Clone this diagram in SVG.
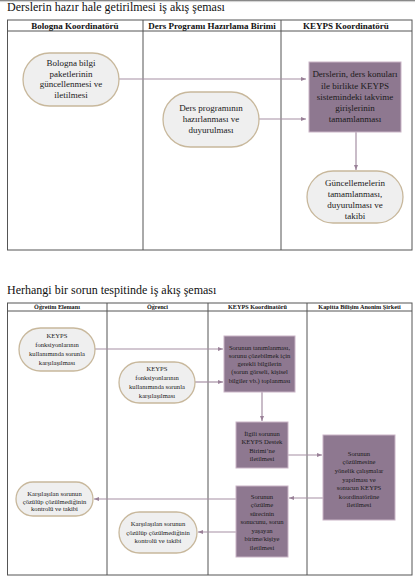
<svg xmlns="http://www.w3.org/2000/svg" width="415" height="577" viewBox="0 0 415 577">
<defs>
<linearGradient id="shade" x1="0" y1="0" x2="0" y2="1">
<stop offset="0" stop-color="#555"/>
<stop offset="1" stop-color="#fff" stop-opacity="0"/>
</linearGradient>
<marker id="ah" markerWidth="6" markerHeight="6" refX="5" refY="3" orient="auto" markerUnits="userSpaceOnUse">
<path d="M0,1 L5,3 L0,5 Z" fill="#9a8198"/>
</marker>
<style>
.tbl{fill:none;stroke:#555;stroke-width:1}
.st{fill:#efefef;stroke:#c8b89c;stroke-width:1.3}
.bx{fill:#8e7890;stroke:#c9b4c6;stroke-width:1}
.c{fill:none;stroke:#a58fa3;stroke-width:1.2;marker-end:url(#ah)}
.t{font-family:"Liberation Serif",serif;fill:#1a1a1a;text-anchor:middle}
.a{font-size:9px}
.b{font-size:6.6px}
.h1{font-family:"Liberation Serif",serif;font-size:9px;font-weight:bold;text-anchor:middle;fill:#111}
.h2{font-family:"Liberation Serif",serif;font-size:6.2px;font-weight:bold;text-anchor:middle;fill:#111}
.title{font-family:"Liberation Serif",serif;font-size:12px;fill:#111}
</style>
</defs>
<rect width="415" height="577" fill="#fff"/>
<rect width="415" height="3" fill="url(#shade)"/>
<text class="title" x="7" y="11">Derslerin hazır hale getirilmesi iş akış şeması</text>
<text class="title" x="7" y="294">Herhangi bir sorun tespitinde iş akış şeması</text>

<g id="table1">
<rect class="tbl" x="7.5" y="20" width="404.5" height="230"/>
<line class="tbl" x1="7.5" y1="31" x2="412" y2="31"/>
<line class="tbl" x1="143" y1="20" x2="143" y2="250"/>
<line class="tbl" x1="281" y1="20" x2="281" y2="250"/>
<text class="h1" x="75" y="28.5">Bologna Koordinatörü</text>
<text class="h1" x="212" y="28.5">Ders Programı Hazırlama Birimi</text>
<text class="h1" x="346" y="28.5">KEYPS Koordinatörü</text>
</g>

<g id="table2">
<rect class="tbl" x="7.5" y="303" width="404.5" height="272"/>
<line class="tbl" x1="7.5" y1="311" x2="412" y2="311"/>
<line class="tbl" x1="107" y1="303" x2="107" y2="575"/>
<line class="tbl" x1="208" y1="303" x2="208" y2="575"/>
<line class="tbl" x1="307" y1="303" x2="307" y2="575"/>
<text class="h2" x="57" y="309">Öğretim Elemanı</text>
<text class="h2" x="157.5" y="309">Öğrenci</text>
<text class="h2" x="257.5" y="309">KEYPS Koordinatörü</text>
<text class="h2" x="359.5" y="309">Kapitta Bilişim  Anonim Şirketi</text>
</g>

<g id="connectors">
<line class="c" x1="119" y1="79" x2="306" y2="79"/>
<line class="c" x1="259" y1="119" x2="306" y2="119"/>
<line class="c" x1="356" y1="132" x2="356" y2="170"/>
<line class="c" x1="95" y1="349" x2="223" y2="349"/>
<line class="c" x1="195" y1="382" x2="223" y2="382"/>
<line class="c" x1="262" y1="392" x2="262" y2="421"/>
<line class="c" x1="288" y1="455" x2="322" y2="455"/>
<line class="c" x1="323" y1="498" x2="289" y2="498"/>
<line class="c" x1="236" y1="499" x2="94" y2="499"/>
<line class="c" x1="236" y1="532" x2="198" y2="532"/>
</g>

<g id="n1">
<rect class="st" x="23" y="53" width="96" height="53" rx="26.5"/>
<text class="t a"><tspan x="71" y="66">Bologna bilgi</tspan><tspan x="71" y="76.5">paketlerinin</tspan><tspan x="71" y="87">güncellenmesi ve</tspan><tspan x="71" y="97.5">iletilmesi</tspan></text>
</g>
<g id="n2">
<rect class="st" x="163" y="92" width="96" height="55" rx="27.5"/>
<text class="t a"><tspan x="211" y="111">Ders programının</tspan><tspan x="211" y="122">hazırlanması ve</tspan><tspan x="211" y="133">duyurulması</tspan></text>
</g>
<g id="n3">
<rect class="bx" x="309" y="62" width="92" height="70"/>
<text class="t a"><tspan x="355" y="77">Derslerin, ders konuları</tspan><tspan x="355" y="88.5">ile birlikte KEYPS</tspan><tspan x="355" y="100">sistemindeki takvime</tspan><tspan x="355" y="111">girişlerinin</tspan><tspan x="355" y="122">tamamlanması</tspan></text>
</g>
<g id="n4">
<rect class="st" x="307" y="171" width="96" height="52" rx="26"/>
<text class="t a"><tspan x="355" y="186">Güncellemelerin</tspan><tspan x="355" y="197">tamamlanması,</tspan><tspan x="355" y="208">duyurulması ve</tspan><tspan x="355" y="219">takibi</tspan></text>
</g>

<g id="m1">
<rect class="st" x="19" y="328" width="76" height="43" rx="21.5"/>
<text class="t b"><tspan x="57" y="337.5">KEYPS</tspan><tspan x="57" y="346.5">fonksiyonlarının</tspan><tspan x="57" y="355.5">kullanımında sorunla</tspan><tspan x="57" y="364.5">karşılaşılması</tspan></text>
</g>
<g id="m2">
<rect class="st" x="119" y="362" width="76" height="41" rx="20.5"/>
<text class="t b"><tspan x="157" y="370.5">KEYPS</tspan><tspan x="157" y="379.5">fonksiyonlarının</tspan><tspan x="157" y="388.5">kullanımında sorunla</tspan><tspan x="157" y="397.5">karşılaşılması</tspan></text>
</g>
<g id="m3">
<rect class="bx" x="224" y="336" width="71" height="56"/>
<text class="t b"><tspan x="259.5" y="349.5">Sorunun tanımlanması,</tspan><tspan x="259.5" y="357.5">sorunu çözebilmek için</tspan><tspan x="259.5" y="365.5">gerekli bilgilerin</tspan><tspan x="259.5" y="374">(sorun görseli, kişisel</tspan><tspan x="259.5" y="383">bilgiler vb.) toplanması</tspan></text>
</g>
<g id="m4">
<rect class="bx" x="236" y="422" width="52" height="46"/>
<text class="t b"><tspan x="262" y="435.5">İlgili sorunun</tspan><tspan x="262" y="444">KEYPS Destek</tspan><tspan x="262" y="452.5">Birimi’ne</tspan><tspan x="262" y="461">iletilmesi</tspan></text>
</g>
<g id="m5">
<rect class="bx" x="323" y="435" width="72" height="85"/>
<text class="t b"><tspan x="359" y="455.5">Sorunun</tspan><tspan x="359" y="464">çözülmesine</tspan><tspan x="359" y="473">yönelik çalışmalar</tspan><tspan x="359" y="481.5">yapılması ve</tspan><tspan x="359" y="490">sonucun KEYPS</tspan><tspan x="359" y="498.5">koordinatörüne</tspan><tspan x="359" y="507">iletilmesi</tspan></text>
</g>
<g id="m6">
<rect class="bx" x="236" y="486" width="52" height="71"/>
<text class="t b"><tspan x="262" y="498.5">Sorunun</tspan><tspan x="262" y="507">çözülme</tspan><tspan x="262" y="515.5">sürecinin</tspan><tspan x="262" y="524">sonucunu, sorun</tspan><tspan x="262" y="532.5">yaşayan</tspan><tspan x="262" y="541">birime/kişiye</tspan><tspan x="262" y="549.5">iletilmesi</tspan></text>
</g>
<g id="m7">
<rect class="st" x="16" y="482" width="77" height="34" rx="17"/>
<text class="t b"><tspan x="54.5" y="495.5">Karşılaşılan sorunun</tspan><tspan x="54.5" y="503.5">çözülüp çözülmediğinin</tspan><tspan x="54.5" y="511">kontrolü ve takibi</tspan></text>
</g>
<g id="m8">
<rect class="st" x="119" y="512" width="78" height="41" rx="20.5"/>
<text class="t b"><tspan x="158" y="526">Karşılaşılan sorunun</tspan><tspan x="158" y="534.5">çözülüp çözülmediğinin</tspan><tspan x="158" y="543">kontrolü ve takibi</tspan></text>
</g>
</svg>
